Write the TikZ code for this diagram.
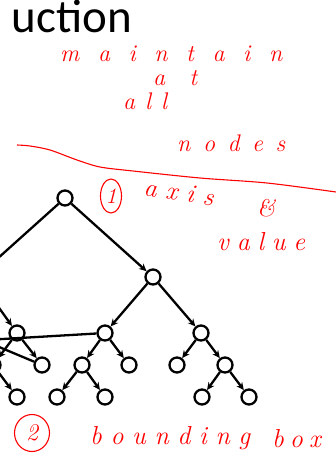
\documentclass[tikz,border=0pt]{standalone}
\usepackage{fontspec}
\setmainfont{Carlito}
\newfontfamily\hwfont{Latin Modern Roman}
\usetikzlibrary{arrows.meta,shapes.geometric}
\tikzset{
  tn/.style={circle, draw=black, line width=2.3pt, minimum size=15pt, inner sep=0pt, fill=white},
  ar/.style={line width=2.3pt, -{Stealth[length=7.5pt,width=7pt]}},
  ln/.style={line width=2.3pt},
  hand/.style={text=red, inner sep=0pt, font=\hwfont\itshape\fontsize{24}{24}\selectfont},
  inkline/.style={draw=red, line width=1.1pt},
  ring/.style={draw=red, line width=1.1pt, ellipse, inner sep=0pt, text=red, font=\hwfont\itshape\fontsize{22}{22}\selectfont}
}
\begin{document}
\begin{tikzpicture}[x=1pt,y=-1pt]
\useasboundingbox (0,0) rectangle (336,462);
\clip (0,0) rectangle (336,462);
% title
\node[anchor=base east, inner sep=0pt, font=\fontsize{47}{47}\selectfont] (title) at (132,33) {uction};
% tree
\coordinate (L) at (-23,277);
\node[tn] (r) at (65,198) {};
\node[tn] (R) at (153,277) {};
\node[tn] (a) at (17,333) {};
\node[tn] (b) at (105,333) {};
\node[tn] (c) at (201,333) {};
\node[tn] (al) at (-7,365) {};
\node[tn] (d) at (42,365) {};
\node[tn] (e) at (82,365) {};
\node[tn] (f) at (129,365) {};
\node[tn] (i) at (177,365) {};
\node[tn] (j) at (225,365) {};
\node[tn] (m1) at (17,397) {};
\node[tn] (g) at (57,397) {};
\node[tn] (h) at (105,397) {};
\node[tn] (k) at (202,397) {};
\node[tn] (l) at (249,397) {};
\coordinate (x1) at (-40,341.5);
\coordinate (x2) at (-20,339);
\draw[ln] (r) -- (L);
\draw[ar] (r) -- (R);
\draw[ar] (L) -- (a);
\draw[ar] (R) -- (b);
\draw[ar] (R) -- (c);
\draw[ar] (a) -- (al);
\draw[ar] (a) -- (d);
\draw[ar] (al) -- (m1);
\draw[ar] (b) -- (e);
\draw[ar] (b) -- (f);
\draw[ar] (e) -- (g);
\draw[ar] (e) -- (h);
\draw[ar] (c) -- (i);
\draw[ar] (c) -- (j);
\draw[ar] (j) -- (k);
\draw[ar] (j) -- (l);
\draw[ln] (x1) -- (b);
\draw[ln] (x2) -- (d);
% red ink
\draw[inkline] plot[smooth] coordinates {(17,145) (30,146) (50,150) (77,160) (100,167) (133,171) (200,178) (267,183) (336,192)};
\node[hand, anchor=base west] (w1) at (60,62) {\makebox[222pt][s]{m a i n t a i n}};
\node[hand, anchor=base west] (w2) at (153,86) {\makebox[44pt][s]{a t}};
\node[hand, anchor=base west] (w3) at (123,110) {\makebox[44pt][s]{a l l}};
\node[hand, anchor=base west] (w4) at (177,152) {\makebox[108pt][s]{n o d e s}};
\node[ring, minimum width=21pt, minimum height=34pt] (one) at (111,196) {1};
\node[hand, anchor=base west, rotate=-9, font=\hwfont\itshape\fontsize{26}{26}\selectfont] (w5) at (143,195) {\makebox[70pt][s]{a x i s}};
\node[hand, anchor=base] (w6) at (266,216) {\&};
\node[hand, anchor=base west, font=\hwfont\itshape\fontsize{26}{26}\selectfont] (w7) at (217,250) {\makebox[88pt][s]{v a l u e}};
\node[ring, minimum width=35pt, minimum height=37pt, font=\hwfont\itshape\fontsize{24}{24}\selectfont] (two) at (32,433) {2};
\node[hand, anchor=base west, font=\hwfont\itshape\fontsize{26}{26}\selectfont] (w8) at (90,444) {\makebox[160pt][s]{b o u n d i n g}};
\node[hand, anchor=base west, font=\hwfont\itshape\fontsize{26}{26}\selectfont] (w9) at (272,447) {\makebox[43pt][s]{b o x}};
\end{tikzpicture}
\end{document}
